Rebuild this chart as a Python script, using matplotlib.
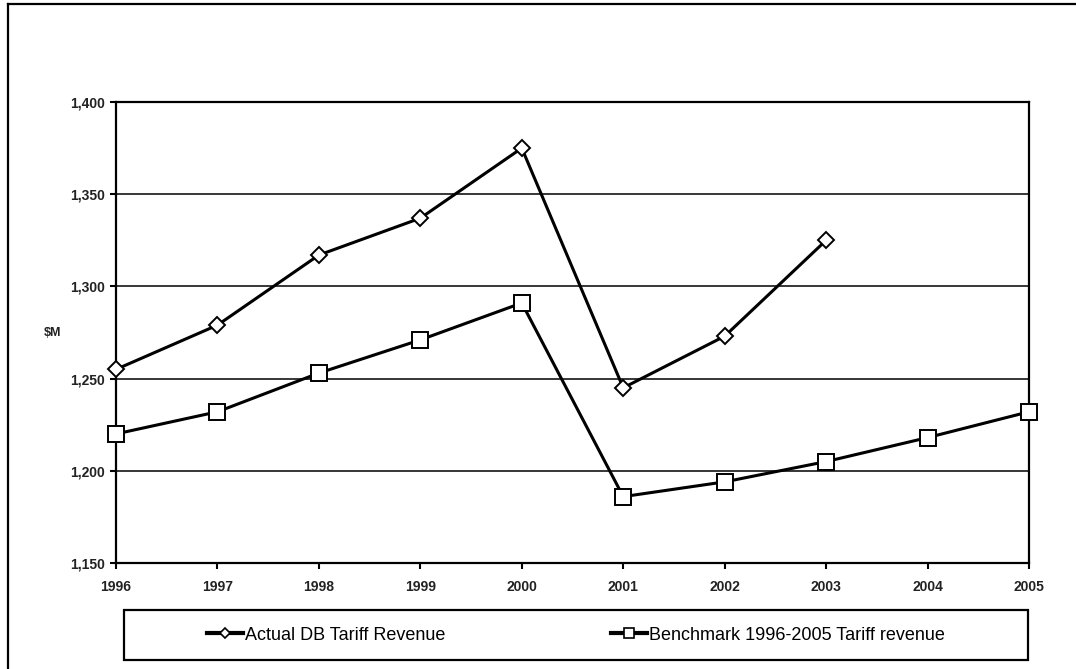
import matplotlib
matplotlib.use('Agg')
import matplotlib.pyplot as plt
from matplotlib.lines import Line2D
from matplotlib.patches import Rectangle
from matplotlib.ticker import FuncFormatter

# Daten
jahre = [1996, 1997, 1998, 1999, 2000, 2001, 2002, 2003, 2004, 2005]
actual_jahre = [1996, 1997, 1998, 1999, 2000, 2001, 2002, 2003]
actual_werte = [1255, 1279, 1317, 1337, 1375, 1245, 1273, 1325]
benchmark_werte = [1220, 1232, 1253, 1271, 1291, 1186, 1194, 1205, 1218, 1232]
y_ticks = [1150, 1200, 1250, 1300, 1350, 1400]

label_actual = 'Actual DB Tariff Revenue'
label_benchmark = 'Benchmark 1996-2005 Tariff revenue'

plt.rcParams['font.family'] = ['Liberation Sans', 'DejaVu Sans']

W, H = 1076, 669
fig = plt.figure(figsize=(W / 100, H / 100), dpi=100)

# Plotbereich in Pixeln: x 116..1029, y 102..563
ax = fig.add_axes([116 / W, 1 - 563 / H, (1029 - 116) / W, (563 - 102) / H])

ax.plot(actual_jahre, actual_werte, color='black', linewidth=2.2,
        marker='D', markersize=8, markerfacecolor='white',
        markeredgecolor='black', markeredgewidth=1.4, zorder=4, clip_on=False)
ax.plot(jahre, benchmark_werte, color='black', linewidth=2.2,
        marker='s', markersize=11, markerfacecolor='white',
        markeredgecolor='black', markeredgewidth=1.4, zorder=4, clip_on=False)

ax.set_xlim(jahre[0], jahre[-1])
ax.set_ylim(y_ticks[0], y_ticks[-1])
ax.set_xticks(jahre)
ax.set_yticks(y_ticks)
ax.yaxis.set_major_formatter(FuncFormatter(lambda v, p: f'{int(v):,}'))
for lbl in ax.get_xticklabels() + ax.get_yticklabels():
    lbl.set_fontweight('bold')
    lbl.set_fontsize(10)
    lbl.set_color('#222222')

ax.tick_params(axis='both', direction='out', length=4, width=1.5, color='black')
ax.tick_params(axis='x', pad=8)
ax.tick_params(axis='y', pad=4)

ax.grid(axis='y', color='black', linewidth=1.1)
ax.set_axisbelow(True)
for sp in ax.spines.values():
    sp.set_linewidth(1.6)
    sp.set_color('black')

fig.text(53 / W, 1 - 333 / H, '$M', fontsize=9, fontweight='bold',
         ha='center', va='center', color='#222222')

# Legende mit eigenem Rahmen
lx0, ly0, lx1, ly1 = 124, 610, 1028, 660
fig.patches.append(Rectangle((lx0 / W, 1 - ly1 / H), (lx1 - lx0) / W, (ly1 - ly0) / H,
                             transform=fig.transFigure, fill=False,
                             edgecolor='black', linewidth=1.6))
handles = [
    Line2D([], [], color='black', linewidth=3, marker='D', markersize=5,
           markerfacecolor='white', markeredgecolor='black', markeredgewidth=1.2),
    Line2D([], [], color='black', linewidth=3, marker='s', markersize=7,
           markerfacecolor='white', markeredgecolor='black', markeredgewidth=1.2),
]
fig.legend(handles, [label_actual, label_benchmark], loc='center', ncol=2,
           bbox_to_anchor=((lx0 + lx1) / 2 / W, 1 - (ly0 + ly1) / 2 / H),
           frameon=False, fontsize=13, handlelength=2.0, handletextpad=0.1,
           columnspacing=9.2, borderpad=0)

# Äußerer Rahmen (oben und links)
fig.add_artist(Line2D([8 / W, 1], [1 - 4 / H, 1 - 4 / H], transform=fig.transFigure,
                      color='black', linewidth=1.6))
fig.add_artist(Line2D([8 / W, 8 / W], [0, 1 - 4 / H], transform=fig.transFigure,
                      color='black', linewidth=1.6))

fig.savefig('out.png', dpi=100)
plt.close(fig)
